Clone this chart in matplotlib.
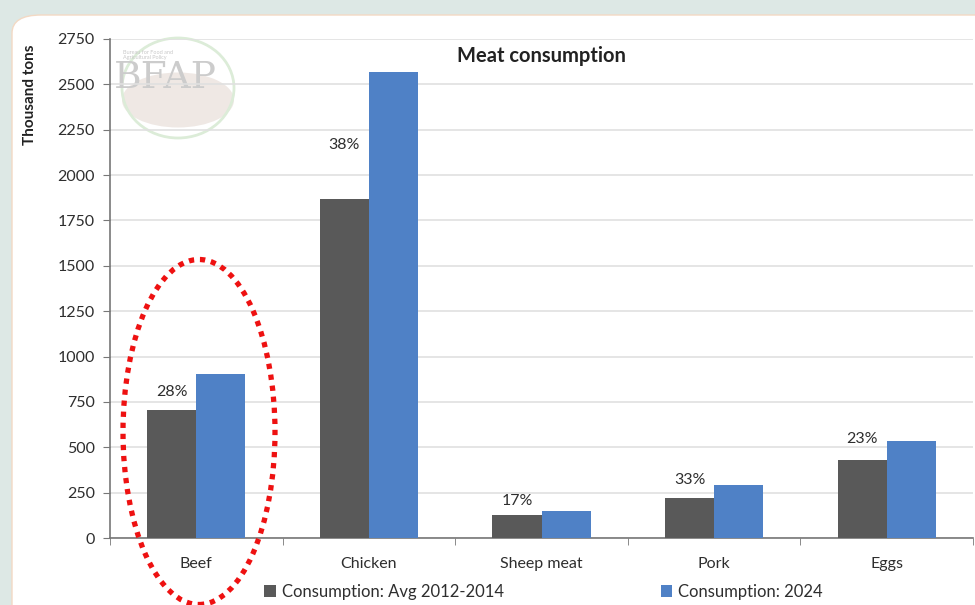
import numpy as np
import matplotlib
matplotlib.use('Agg')
import matplotlib.pyplot as plt
from matplotlib.patches import Ellipse, FancyBboxPatch

plt.rcParams['font.family'] = ['Lato', 'DejaVu Sans']

categories = ['Beef', 'Chicken', 'Sheep meat', 'Pork', 'Eggs']
avg_2012_2014 = [705, 1868, 127, 220, 430]
proj_2024 = [904, 2568, 149, 292, 534]
growth_labels = ['28%', '38%', '17%', '33%', '23%']
label_offsets = [8, 34, 5, 8, 10]   # points above the dark bar
series_names = ['Consumption: Avg 2012-2014', 'Consumption: 2024']

W, H = 975, 605
fig = plt.figure(figsize=(W / 100, H / 100), dpi=100)
fig.patch.set_facecolor('#dde8e5')

# white slide panel
panel = FancyBboxPatch((12 / W, -0.05), 1.2, 1 - 15 / H + 0.05,
                       boxstyle='round,pad=0,rounding_size=0.03',
                       transform=fig.transFigure, facecolor='white',
                       edgecolor='#f3d9c4', linewidth=1.0, zorder=-2)
fig.patches.append(panel)

# faint BFAP watermark
fig.patches.append(Ellipse((178 / W, 1 - 100 / H), 112 / W, 55 / H,
                           transform=fig.transFigure, facecolor='#efe8e4',
                           edgecolor='none', zorder=-1.5))
fig.patches.append(Ellipse((178 / W, 1 - 88 / H), 112 / W, 100 / H,
                           transform=fig.transFigure, fill=False,
                           edgecolor='#dcecd8', linewidth=2, zorder=-1))
fig.text(165 / W, 1 - 78 / H, 'BFAP', fontsize=27, family='DejaVu Serif',
         color='#cccccc', ha='center', va='center', zorder=-1)
fig.text(123 / W, 1 - 55 / H, 'Bureau for Food and\nAgricultural Policy',
         fontsize=4, color='#c8c8c8', ha='left', va='center', zorder=-1)

ax = fig.add_axes([110 / W, 1 - 538 / H, 863 / W, 499 / H])
ax.set_facecolor('none')
ax.set_zorder(2)

x = np.arange(len(categories))
bw = 0.285
b1 = ax.bar(x - bw / 2, avg_2012_2014, bw, color='#595959', label=series_names[0], zorder=3)
b2 = ax.bar(x + bw / 2, proj_2024, bw, color='#4f81c6', label=series_names[1], zorder=3)

for rect, txt, off in zip(b1, growth_labels, label_offsets):
    ax.annotate(txt, (rect.get_x() + rect.get_width() / 2, rect.get_height()),
                xytext=(0, off), textcoords='offset points',
                ha='center', va='bottom', fontsize=11.5, color='#2e2e2e')

ax.set_xlim(-0.5, len(categories) - 0.5)
ax.set_ylim(0, 2750)
ax.set_yticks(np.arange(0, 2751, 250))
ax.yaxis.grid(True, color='#e0e0e0', linewidth=1.2, zorder=0)
ax.set_axisbelow(True)

ax.set_xticks(x)
ax.set_xticklabels(categories, fontsize=11.5, color='#2e2e2e')
ax.set_xticks(np.arange(-0.5, len(categories)), minor=True)
ax.tick_params(axis='x', which='major', length=0, pad=14)
ax.tick_params(axis='x', which='minor', length=5, color='#777777')
ax.tick_params(axis='y', length=5, color='#777777', labelsize=11.5,
               labelcolor='#2e2e2e', pad=6)

for s in ['top', 'right']:
    ax.spines[s].set_visible(False)
for s in ['left', 'bottom']:
    ax.spines[s].set_color('#777777')
    ax.spines[s].set_linewidth(1.2)

ax.text(0.5, 0.965, 'Meat consumption', transform=ax.transAxes, ha='center',
        va='center', fontsize=14.5, fontweight='bold', color='#222222')

fig.text(30 / W, 1 - 95 / H, 'Thousand tons', rotation=90, ha='center',
         va='center', fontsize=11, fontweight='bold', color='#222222')

leg = fig.legend(handles=[b1, b2], loc='center left',
                 bbox_to_anchor=(256 / W, 1 - 592 / H), ncol=2, frameon=False,
                 fontsize=12, handlelength=0.7, handleheight=0.7,
                 handletextpad=0.35, columnspacing=9.4, borderpad=0)
for t in leg.get_texts():
    t.set_color('#2e2e2e')

# red dotted highlight around beef
fig.patches.append(Ellipse((199 / W, 1 - 432 / H), 152 / W, 345 / H,
                           transform=fig.transFigure, fill=False,
                           edgecolor='#ee1111', linewidth=3.8,
                           linestyle=(0, (1, 1.1)), zorder=10))

fig.savefig('out.png', dpi=100, facecolor=fig.get_facecolor())
